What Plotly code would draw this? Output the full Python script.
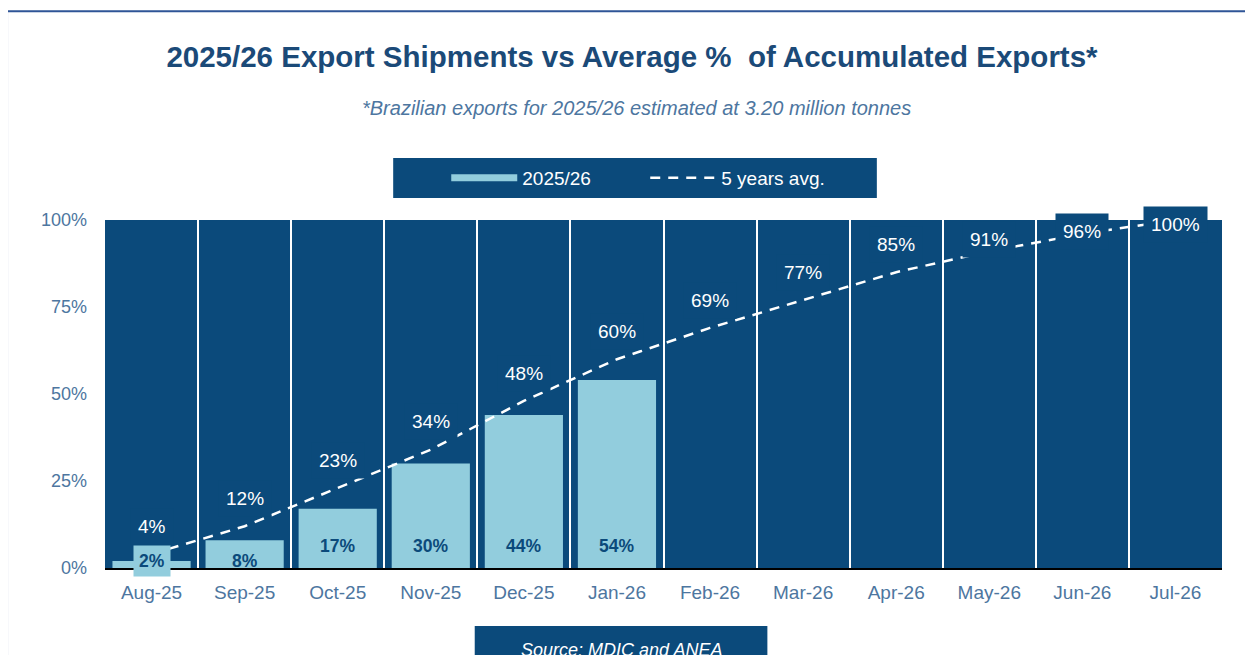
import plotly.graph_objects as go

months = ["Aug-25", "Sep-25", "Oct-25", "Nov-25", "Dec-25", "Jan-26",
          "Feb-26", "Mar-26", "Apr-26", "May-26", "Jun-26", "Jul-26"]
exports_2526 = [2, 8, 17, 30, 44, 54]
avg_5y = [4, 12, 23, 34, 48, 60, 69, 77, 85, 91, 96, 100]
y_ticks = [0, 25, 50, 75, 100]

NAVY = "#0b4a7b"
LIGHT = "#92cddd"
TXT = "#1b4a78"
TICK = "#4d76a0"
FONT = "Liberation Sans"

fig = go.Figure()
fig.add_trace(go.Bar(
    x=months[:len(exports_2526)],
    y=exports_2526,
    name="2025/26",
    marker=dict(color=LIGHT, line=dict(width=0)),
    width=0.84,
    showlegend=False,
))
# legend entry for the bars (wide swatch like the original)
fig.add_trace(go.Scatter(
    x=[None], y=[None], mode="lines", name="2025/26",
    line=dict(color=LIGHT, width=7),
))
fig.add_trace(go.Scatter(
    x=months,
    y=avg_5y,
    mode="lines",
    name="5 years avg.",
    line=dict(color="white", width=2.5, dash="10px,8px"),
))

# labels for the 5 years avg. line (squeezed near the top)
for m, v in zip(months, avg_5y):
    ly = v + 8 if v < 90 else 94.3 + (v - 91) * 0.48
    fig.add_annotation(
        x=m, y=ly, text=f"{v}%", showarrow=False,
        font=dict(family=FONT, size=19, color="white"),
        bgcolor=NAVY, borderpad=7,
    )

# labels for the 2025/26 bars
for m, v in zip(months, exports_2526):
    fig.add_annotation(
        x=m, y=0, yanchor="bottom", yshift=6 if v >= 10 else -9,
        text=f"<b>{v}%</b>", showarrow=False,
        font=dict(family=FONT, size=17.5, color=NAVY),
        bgcolor=LIGHT if v < 5 else "rgba(0,0,0,0)", borderpad=5,
    )

# subtitle and source
fig.add_annotation(
    xref="paper", yref="paper", x=0.476, y=1.322,
    xanchor="center", yanchor="middle",
    text="<i>*Brazilian exports for 2025/26 estimated at 3.20 million tonnes</i>",
    showarrow=False, font=dict(family=FONT, size=20, color=TICK),
)
fig.add_shape(type="rect", xref="paper", yref="paper",
              x0=0.331, x1=0.593, y0=-0.167, y1=-0.35,
              fillcolor=NAVY, line=dict(width=0))
fig.add_annotation(
    xref="paper", yref="paper", x=0.462, y=-0.236,
    xanchor="center", yanchor="middle",
    text="<i>Source: MDIC and ANEA</i>", showarrow=False,
    font=dict(family=FONT, size=18, color="white"),
)
# legend box
fig.add_shape(type="rect", xref="paper", yref="paper",
              x0=0.258, x1=0.691, y0=1.063, y1=1.178,
              fillcolor=NAVY, line=dict(width=0))
# outer frame
fig.add_shape(type="rect", xref="paper", yref="paper",
              x0=-0.0877, x1=1.05, y0=1.6, y1=-0.4,
              fillcolor="rgba(0,0,0,0)", line=dict(color="#2f5597", width=2))

fig.update_layout(
    width=1253, height=655,
    margin=dict(l=97, r=39, t=212, b=95),
    paper_bgcolor="white",
    plot_bgcolor=NAVY,
    barmode="overlay",
    title=dict(
        text="<b>2025/26 Export Shipments vs Average %  of Accumulated Exports*</b>",
        x=0.498, xanchor="center", y=0.9252, yanchor="middle",
        font=dict(family=FONT, size=29.5, color=TXT),
    ),
    legend=dict(
        orientation="h", x=0.3055, xanchor="left", y=1.121, yanchor="middle",
        bgcolor="rgba(0,0,0,0)", font=dict(family=FONT, size=19, color="white"),
        entrywidth=118, itemwidth=66,
    ),
    xaxis=dict(
        tickson="boundaries", showgrid=True, gridcolor="white", gridwidth=2,
        ticks="", showline=True, linecolor="black", linewidth=2,
        tickfont=dict(family=FONT, size=19, color=TICK),
        ticklabelstandoff=6,
        range=[-0.5, 11.5],
    ),
    yaxis=dict(
        range=[0, 100], tickvals=y_ticks, ticktext=[f"{t}%" for t in y_ticks],
        showgrid=False, zeroline=False, ticks="",
        ticklabelstandoff=17,
        tickfont=dict(family=FONT, size=18, color=TICK),
    ),
)

fig.write_html("out.html")
